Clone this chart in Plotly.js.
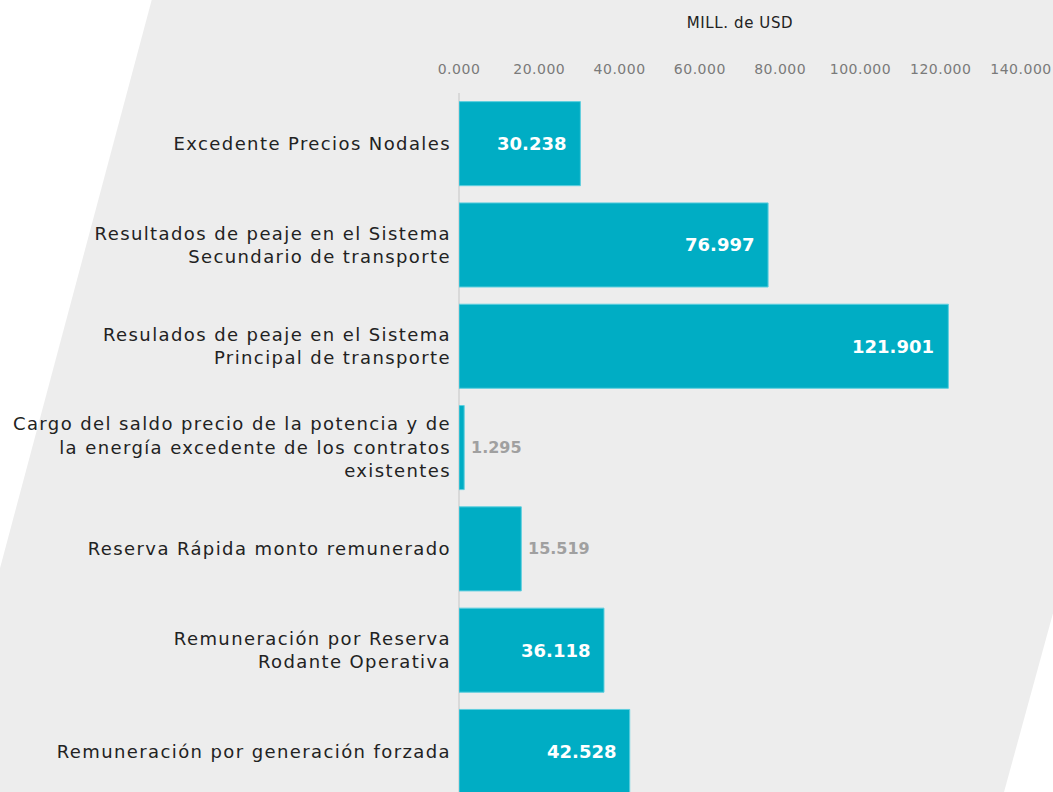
<!DOCTYPE html>
<html>
<head>
<meta charset="utf-8">
<script src="https://cdn.plot.ly/plotly-3.0.1.min.js"></script>
<style>
  html, body { margin: 0; padding: 0; background: #ffffff; }
  #grafica { width: 1053px; height: 792px; }
  /* la fuente original es mas ancha: se abre un poco el espaciado */
  #grafica .ytick text { letter-spacing: 1.4px; }
  #grafica .xtick text { letter-spacing: 0.5px; }
  #grafica .xtitle { letter-spacing: 0.6px; }
</style>
</head>
<body>
<div id="grafica"></div>
<script>
// Conceptos (de arriba hacia abajo)
const conceptos = [
    "Excedente Precios Nodales",
    "Resultados de peaje en el Sistema<br>Secundario de transporte",
    "Resulados de peaje en el Sistema<br>Principal de transporte",
    "Cargo del saldo precio de la potencia y de<br>la energía excedente de los contratos<br>existentes",
    "Reserva Rápida monto remunerado",
    "Remuneración por Reserva<br>Rodante Operativa",
    "Remuneración por generación forzada"
];

// Montos en MILL. de USD
const montos = [30.238, 76.997, 121.901, 1.295, 15.519, 36.118, 42.528];

const tituloEje = "MILL. de USD";
const valoresEje = [0, 20, 40, 60, 80, 100, 120, 140];

const colorBarra = "#00adc4";
const fuente = '"DejaVu Sans", sans-serif';

// Etiquetas de valor: dentro (blanco) o fuera (gris) segun el largo de la barra
const etiquetas = montos.map((v, i) => {
    const dentro = v > 25;
    return {
        x: v,
        y: conceptos[i],
        xref: 'x',
        yref: 'y',
        text: v.toFixed(3),
        showarrow: false,
        xanchor: dentro ? 'right' : 'left',
        xshift: dentro ? -12 : 5,
        font: {
            family: fuente,
            size: dentro ? 18 : 16,
            weight: 'bold',
            color: dentro ? '#ffffff' : '#a0a0a0'
        }
    };
});

const traza = {
    type: 'bar',
    orientation: 'h',
    x: montos,
    y: conceptos,
    width: 0.83,
    marker: {
        color: colorBarra,
        line: { color: '#5fcfdf', width: 1 }
    },
    hoverinfo: 'x+y'
};

// Fondo gris en forma de paralelogramo (coordenadas de papel)
const fondo = {
    type: 'path',
    xref: 'paper',
    yref: 'paper',
    layer: 'below',
    path: 'M -0.5445 1.14 L 1.06 1.14 L 1.06 0.2647 L 0.9698 0 L -0.82 0 L -0.82 0.3104 Z',
    fillcolor: '#ededed',
    line: { width: 0 }
};

const layout = {
    width: 1053,
    height: 792,
    margin: { l: 459, r: 32, t: 93, b: 0, pad: 0 },
    paper_bgcolor: '#ffffff',
    plot_bgcolor: 'rgba(0,0,0,0)',
    showlegend: false,
    font: { family: fuente, color: '#222222' },
    shapes: [fondo],
    annotations: etiquetas,
    xaxis: {
        side: 'top',
        range: [0, 140],
        tickvals: valoresEje,
        tickformat: '.3f',
        showgrid: false,
        zeroline: true,
        zerolinecolor: '#d9d9d9',
        zerolinewidth: 2,
        showline: false,
        ticks: '',
        ticklabelstandoff: 15,
        tickfont: { family: fuente, size: 14, color: '#7a7a7a' },
        title: {
            text: tituloEje,
            standoff: 28,
            font: { family: fuente, size: 15, color: '#222222' }
        },
        fixedrange: true
    },
    yaxis: {
        type: 'category',
        range: [6.4, -0.5],
        showgrid: false,
        zeroline: false,
        showline: false,
        ticks: '',
        ticklabelstandoff: 7,
        tickfont: { family: fuente, size: 18, color: '#222222' },
        fixedrange: true
    }
};

Plotly.newPlot('grafica', [traza], layout, { displayModeBar: false, staticPlot: true });
</script>
</body>
</html>
